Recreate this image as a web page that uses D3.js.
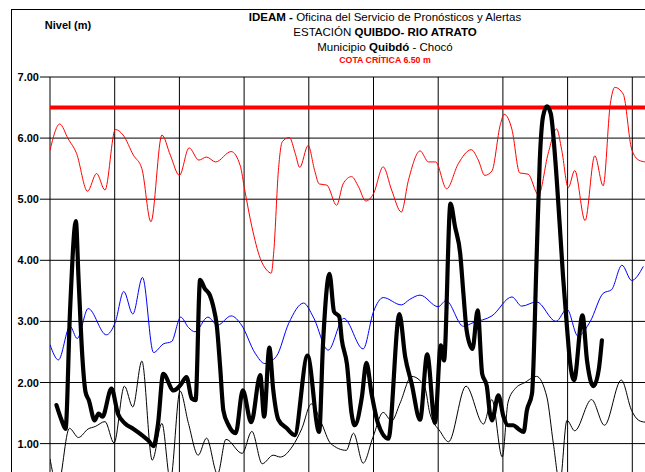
<!DOCTYPE html>
<html><head><meta charset="utf-8">
<script src="https://cdn.jsdelivr.net/npm/d3@7"></script>
<style>
html,body{margin:0;padding:0;background:#fff;}
svg{display:block;font-family:Arial,"Liberation Sans",sans-serif;}
</style></head>
<body>
<svg id="chart" width="645" height="472"></svg>
<script>
// ---- data ----
const criticalLevel = 6.5;
const yGrid = [0, 1, 2, 3, 4, 5, 6, 7];
const yTickLabels = [1, 2, 3, 4, 5, 6, 7];
const xGridDays = [0, 10, 20, 30, 40, 50, 60, 70, 80, 90, 100];

// maximum levels (thin red)
const maxDays = [0,1.5,2.8,4.1,5.8,7.2,8.5,10.1,11.3,12.9,14.2,15.6,17.3,18.6,20.0,21.5,23.0,24.2,25.6,28.0,29.4,30.1,31.2,32.5,33.5,34.2,34.6,35.3,35.9,37.0,37.9,38.6,39.9,40.9,41.6,42.8,44.3,45.3,46.6,47.7,48.8,50.0,51.5,52.8,54.3,55.4,57.2,58.5,59.6,61.3,63.1,65.1,66.2,67.2,68.3,69.6,70.2,71.4,72.6,73.9,75.5,77.0,78.3,79.1,80.1,81.1,82.7,84.2,85.5,86.6,87.3,88.6,89.9,91.0,92.0];
const maxLevels = [5.80,6.23,5.99,5.75,5.13,5.42,5.15,6.14,6.05,5.72,5.50,4.63,6.05,5.72,5.39,5.84,5.64,5.69,5.61,5.78,5.55,5.15,4.55,4.03,3.84,3.79,4.16,5.47,5.94,6.01,5.75,5.52,5.88,5.47,5.25,5.23,4.90,5.25,5.37,5.20,4.97,5.09,5.53,5.15,4.79,5.31,5.79,5.61,5.61,5.17,5.58,5.81,5.64,5.39,5.46,6.22,6.39,6.14,5.43,5.41,5.07,5.75,6.15,5.80,5.19,5.47,4.65,5.71,5.22,6.56,6.83,6.72,5.82,5.64,5.61];

// mean levels (thin blue)
const meanDays = [0,1.3,3.1,4.2,5.9,8.7,10.1,11.4,12.8,14.3,16.0,17.5,18.8,20.2,21.4,22.4,24.4,25.9,28.0,29.6,31.7,33.2,35.0,36.9,39.2,40.7,43.0,45.4,48.4,50.0,51.5,54.3,55.6,57.2,60.0,61.2,63.9,65.4,68.3,71.4,72.9,75.2,78.2,79.9,81.6,83.5,85.5,86.8,88.4,89.9,91.7];
const meanLevels = [2.62,2.37,2.92,2.72,3.21,2.78,2.99,3.49,3.12,3.72,2.49,2.63,2.67,3.07,2.90,2.83,3.07,2.94,3.09,2.94,2.48,2.31,2.43,2.97,3.30,3.07,2.53,3.05,2.55,3.16,3.39,3.27,3.36,3.43,3.24,3.34,2.92,2.98,3.09,3.40,3.25,3.32,3.00,3.20,2.76,3.00,3.46,3.52,3.92,3.67,3.90];

// minimum levels (thin black)
const minDays = [0,1.2,3.0,4.4,5.9,7.0,8.5,9.9,11.5,12.8,14.2,15.8,17.3,18.6,20.1,21.4,22.9,24.2,25.9,27.2,29.7,31.2,32.8,34.5,35.6,37.5,38.9,40.4,41.9,43.4,45.8,46.9,48.4,49.9,51.5,52.8,54.1,55.9,57.2,58.0,58.7,60.3,61.6,64.3,67.0,68.3,69.9,70.8,71.9,73.4,75.2,76.8,77.8,78.8,79.9,81.1,83.7,85.7,88.3,89.9,91.0,92.0];
const minLevels = [0.75,0.30,1.25,1.10,1.24,1.28,1.36,1.01,1.94,1.60,2.35,0.73,1.33,0.40,1.86,1.33,0.81,1.09,0.50,1.07,0.84,1.20,0.67,0.81,0.78,0.96,1.24,1.65,1.35,1.00,0.89,1.17,0.68,1.10,1.51,1.37,1.66,2.10,2.03,1.90,1.50,1.20,1.03,1.94,1.32,1.72,0.78,1.68,1.90,2.00,2.10,1.76,1.00,0.35,1.38,1.21,1.72,1.30,2.04,1.54,1.38,1.35];

// current levels (thick black)
const currDays = [1.0,1.8,2.4,3.1,4.0,4.4,5.0,5.5,6.0,6.9,7.5,8.1,9.5,10.5,11.6,12.9,14.2,15.2,16.0,16.7,17.5,19.1,20.1,21.1,21.9,22.5,23.2,23.9,24.7,25.2,25.8,26.3,26.8,27.6,28.7,29.8,31.1,32.5,33.1,33.9,34.5,35.3,36.6,37.8,39.8,41.6,42.2,43.2,43.9,44.7,45.1,45.9,46.6,47.1,48.2,48.9,49.7,50.7,52.3,54.0,54.9,55.9,57.2,58.3,59.5,60.4,60.9,61.9,62.6,63.4,63.9,64.4,65.3,66.1,66.8,67.5,68.0,68.3,69.3,70.1,70.8,71.6,72.4,73.2,73.7,74.5,75.2,75.7,76.2,76.8,77.4,78.1,78.8,79.3,79.9,80.4,81.0,82.3,83.0,84.0,84.8,85.3];
const currLevels = [1.63,1.38,1.24,3.18,4.64,3.73,2.42,1.84,1.71,1.38,1.49,1.44,1.90,1.49,1.33,1.24,1.14,1.05,0.96,1.33,2.14,1.87,1.95,2.09,1.74,1.71,3.68,3.54,3.43,3.26,2.91,2.25,1.54,1.30,1.17,1.87,1.35,2.12,1.44,2.57,1.88,1.39,1.25,1.14,2.44,1.19,2.64,3.78,3.16,3.08,2.70,2.30,1.50,1.30,1.76,2.32,1.82,1.33,1.08,3.12,2.42,1.98,1.39,2.46,1.34,2.61,2.36,4.93,4.55,4.11,3.45,2.85,2.55,3.18,2.14,1.95,1.49,1.38,1.79,1.44,1.30,1.30,1.24,1.19,1.54,1.82,4.00,5.64,6.35,6.52,6.40,5.64,4.55,3.73,2.91,2.31,2.04,3.10,2.36,1.94,2.20,2.69];

// ---- drawing ----
const svg = d3.select("#chart");
const x = d3.scaleLinear().domain([0, 100]).range([50, 697]);
const y = d3.scaleLinear().domain([0, 7]).range([504.7, 77]);

svg.append("rect").attr("width", 645).attr("height", 472).attr("fill", "#fff");
svg.append("rect").attr("x", 11.5).attr("y", 9.5).attr("width", 700).attr("height", 520)
  .attr("fill", "none").attr("stroke", "#000").attr("stroke-width", 1);

svg.append("clipPath").attr("id", "plot").append("rect")
  .attr("x", x(0)).attr("y", y(7) - 2).attr("width", x(100) - x(0)).attr("height", y(0) - y(7) + 4);

// gridlines
svg.append("g").selectAll("line").data(yGrid).join("line")
  .attr("x1", x(0) - 10).attr("x2", x(100))
  .attr("y1", d => y(d)).attr("y2", d => y(d))
  .attr("stroke", "#000").attr("stroke-width", 1);
svg.append("g").selectAll("line").data(xGridDays).join("line")
  .attr("x1", d => x(d)).attr("x2", d => x(d))
  .attr("y1", y(7)).attr("y2", y(0))
  .attr("stroke", "#000").attr("stroke-width", 1);

// y axis labels
const yAxis = d3.axisLeft(y).tickValues(yTickLabels).tickFormat(d3.format(".2f"))
  .tickSize(10).tickPadding(1);
const ga = svg.append("g").attr("transform", `translate(${x(0)},0)`).call(yAxis);
ga.select(".domain").remove();
ga.selectAll("line").remove();
ga.selectAll("text").attr("font-family", "Arial, 'Liberation Sans', sans-serif")
  .attr("font-size", 11).attr("font-weight", "bold").attr("fill", "#000");

const g = svg.append("g").attr("clip-path", "url(#plot)");
const line = d3.line().x(d => x(d[0])).y(d => y(d[1])).curve(d3.curveMonotoneX);
const zip = (a, b) => a.map((d, i) => [d, b[i]]);

// critical line
g.append("line").attr("x1", x(0)).attr("x2", x(100))
  .attr("y1", y(criticalLevel)).attr("y2", y(criticalLevel))
  .attr("stroke", "#ff0000").attr("stroke-width", 4);

g.append("path").datum(zip(minDays, minLevels)).attr("d", line)
  .attr("fill", "none").attr("stroke", "#000").attr("stroke-width", 1);
g.append("path").datum(zip(meanDays, meanLevels)).attr("d", line)
  .attr("fill", "none").attr("stroke", "#0000ff").attr("stroke-width", 1);
g.append("path").datum(zip(maxDays, maxLevels)).attr("d", line)
  .attr("fill", "none").attr("stroke", "#ff0000").attr("stroke-width", 1);
g.append("path").datum(zip(currDays, currLevels)).attr("d", line)
  .attr("fill", "none").attr("stroke", "#000").attr("stroke-width", 4.2)
  .attr("stroke-linejoin", "round").attr("stroke-linecap", "round");

// texts
svg.append("text").attr("x", 68).attr("y", 29).attr("text-anchor", "middle")
  .attr("font-size", 11).attr("font-weight", "bold").text("Nivel (m)");

const cx = 385;
const t1 = svg.append("text").attr("x", cx).attr("y", 21).attr("text-anchor", "middle").attr("font-size", 11.5);
t1.append("tspan").attr("font-weight", "bold").text("IDEAM - ");
t1.append("tspan").text("Oficina del Servicio de Pronósticos y Alertas");
const t2 = svg.append("text").attr("x", cx).attr("y", 36).attr("text-anchor", "middle").attr("font-size", 11.5);
t2.append("tspan").text("ESTACIÓN ");
t2.append("tspan").attr("font-weight", "bold").text("QUIBDO- RIO ATRATO");
const t3 = svg.append("text").attr("x", cx).attr("y", 51).attr("text-anchor", "middle").attr("font-size", 11.5);
t3.append("tspan").text("Municipio ");
t3.append("tspan").attr("font-weight", "bold").text("Quibdó");
t3.append("tspan").text(" - Chocó");
svg.append("text").attr("x", cx).attr("y", 62.5).attr("text-anchor", "middle")
  .attr("font-size", 8.8).attr("font-weight", "bold").attr("fill", "#ff0000")
  .text("COTA CRÍTICA 6.50 m");
</script>
</body></html>
